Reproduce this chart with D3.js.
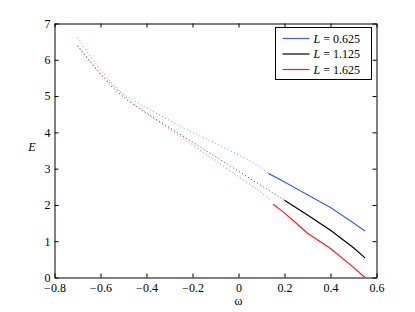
<!DOCTYPE html>
<html>
<head>
<meta charset="utf-8">
<script src="https://cdn.jsdelivr.net/npm/d3@7"></script>
<style>
  body { margin: 0; background: #fff; }
  svg text { font-family: "Liberation Serif", "Times New Roman", serif; }
</style>
</head>
<body>
<svg width="415" height="312"></svg>
<script>
// dotted part of each branch
const omegaDot = [-0.7, -0.65, -0.6, -0.55, -0.5, -0.45, -0.4, -0.35, -0.3, -0.25, -0.2, -0.15, -0.1, -0.05, 0, 0.05, 0.1];
const blueDot = [6.40, 6.00, 5.62, 5.30, 5.05, 4.86, 4.68, 4.50, 4.33, 4.16, 4.00, 3.85, 3.70, 3.54, 3.38, 3.22, 3.02];
const blackDot = [6.38, 5.98, 5.60, 5.25, 4.97, 4.74, 4.53, 4.33, 4.13, 3.93, 3.73, 3.53, 3.33, 3.13, 2.93, 2.73, 2.53];
const redDot = [6.61, 6.15, 5.72, 5.35, 5.03, 4.76, 4.52, 4.30, 4.08, 3.87, 3.66, 3.44, 3.22, 3.00, 2.78, 2.56, 2.34];
// the dotted ends join the solid starts
const blueDotEnd = [[0.13, 2.87]];
const blackDotEnd = [[0.15, 2.33], [0.2, 2.13]];
const redDotEnd = [[0.135, 2.16]];

// solid part
const blueSolid = [[0.13, 2.87], [0.2, 2.63], [0.3, 2.28], [0.4, 1.93], [0.5, 1.50], [0.55, 1.28]];
const blackSolid = [[0.2, 2.13], [0.3, 1.72], [0.4, 1.30], [0.5, 0.82], [0.55, 0.54]];
const redSolid = [[0.15, 2.02], [0.19, 1.83], [0.25, 1.50], [0.3, 1.22], [0.4, 0.80], [0.5, 0.28], [0.55, 0.0]];

const legendLabels = ["0.625", "1.125", "1.625"];
const colors = ["#3a5cff", "#000000", "#ff1a1a"];
const xTicks = [-0.8, -0.6, -0.4, -0.2, 0, 0.2, 0.4, 0.6];
const yTicks = [0, 1, 2, 3, 4, 5, 6, 7];

const serif = '"Liberation Serif", "Times New Roman", serif';
const svg = d3.select("svg").attr("font-family", serif);
const mLeft = 54.5, mRight = 376.5, mTop = 23.5, mBottom = 277.5;

const x = d3.scaleLinear().domain([-0.8, 0.6]).range([mLeft, mRight]);
const y = d3.scaleLinear().domain([0, 7]).range([mBottom, mTop]);

const fmt = (d) => (d === 0 ? "0" : d3.format(".1f")(d).replace("-", "\u2212"));

// axes with inward ticks on all sides
svg.append("g").attr("transform", `translate(0,${mBottom})`)
  .call(d3.axisBottom(x).tickValues(xTicks).tickSizeInner(-4).tickSizeOuter(0).tickFormat(fmt))
  .call((g) => g.selectAll("text").attr("y", 6).style("font-size", "12px").attr("fill", "#000"));
svg.append("g").attr("transform", `translate(0,${mTop})`)
  .call(d3.axisTop(x).tickValues(xTicks).tickSizeInner(-4).tickSizeOuter(0).tickFormat(""));
svg.append("g").attr("transform", `translate(${mLeft},0)`)
  .call(d3.axisLeft(y).tickValues(yTicks).tickSizeInner(-4).tickSizeOuter(0).tickFormat(d3.format("d")))
  .call((g) => g.selectAll("text").attr("x", -4).style("font-size", "12px").attr("fill", "#000"));
svg.append("g").attr("transform", `translate(${mRight},0)`)
  .call(d3.axisRight(y).tickValues(yTicks).tickSizeInner(-4).tickSizeOuter(0).tickFormat(""));
svg.selectAll("g").attr("font-family", serif);
svg.selectAll(".domain").attr("stroke", "#000");
svg.selectAll(".tick line").attr("stroke", "#000");

const line = d3.line().x((d) => x(d[0])).y((d) => y(d[1]));

const dotted = [
  omegaDot.map((w, i) => [w, blueDot[i]]).concat(blueDotEnd),
  omegaDot.map((w, i) => [w, blackDot[i]]).concat(blackDotEnd),
  omegaDot.map((w, i) => [w, redDot[i]]).concat(redDotEnd),
];
const solid = [blueSolid, blackSolid, redSolid];

svg.append("g").selectAll("path").data(dotted).join("path")
  .attr("d", line).attr("fill", "none")
  .attr("stroke", (d, i) => colors[i])
  .attr("stroke-width", 1)
  .attr("stroke-dasharray", "1,2.5")
  .attr("opacity", 0.7);

svg.append("g").selectAll("path").data(solid).join("path")
  .attr("d", line).attr("fill", "none")
  .attr("stroke", (d, i) => colors[i])
  .attr("stroke-width", 1.2);

// axis labels
svg.append("text").attr("x", x(0)).attr("y", 305).attr("text-anchor", "middle")
  .style("font-size", "12px").text("\u03c9");
svg.append("text").attr("x", 32).attr("y", 151).attr("text-anchor", "middle")
  .style("font-size", "12px").style("font-style", "italic").text("E");

// legend
const leg = svg.append("g").attr("transform", "translate(275.5,27.5)");
leg.append("rect").attr("width", 96).attr("height", 52)
  .attr("fill", "#fff").attr("stroke", "#000").attr("stroke-width", 1);
legendLabels.forEach((lab, i) => {
  const yy = 11 + i * 15.5;
  leg.append("line").attr("x1", 7).attr("x2", 34).attr("y1", yy).attr("y2", yy)
    .attr("stroke", colors[i]).attr("stroke-width", 1.2);
  const t = leg.append("text").attr("x", 38).attr("y", yy + 4).style("font-size", "12px");
  t.append("tspan").style("font-style", "italic").text("L");
  t.append("tspan").text(" = " + lab);
});
</script>
</body>
</html>
